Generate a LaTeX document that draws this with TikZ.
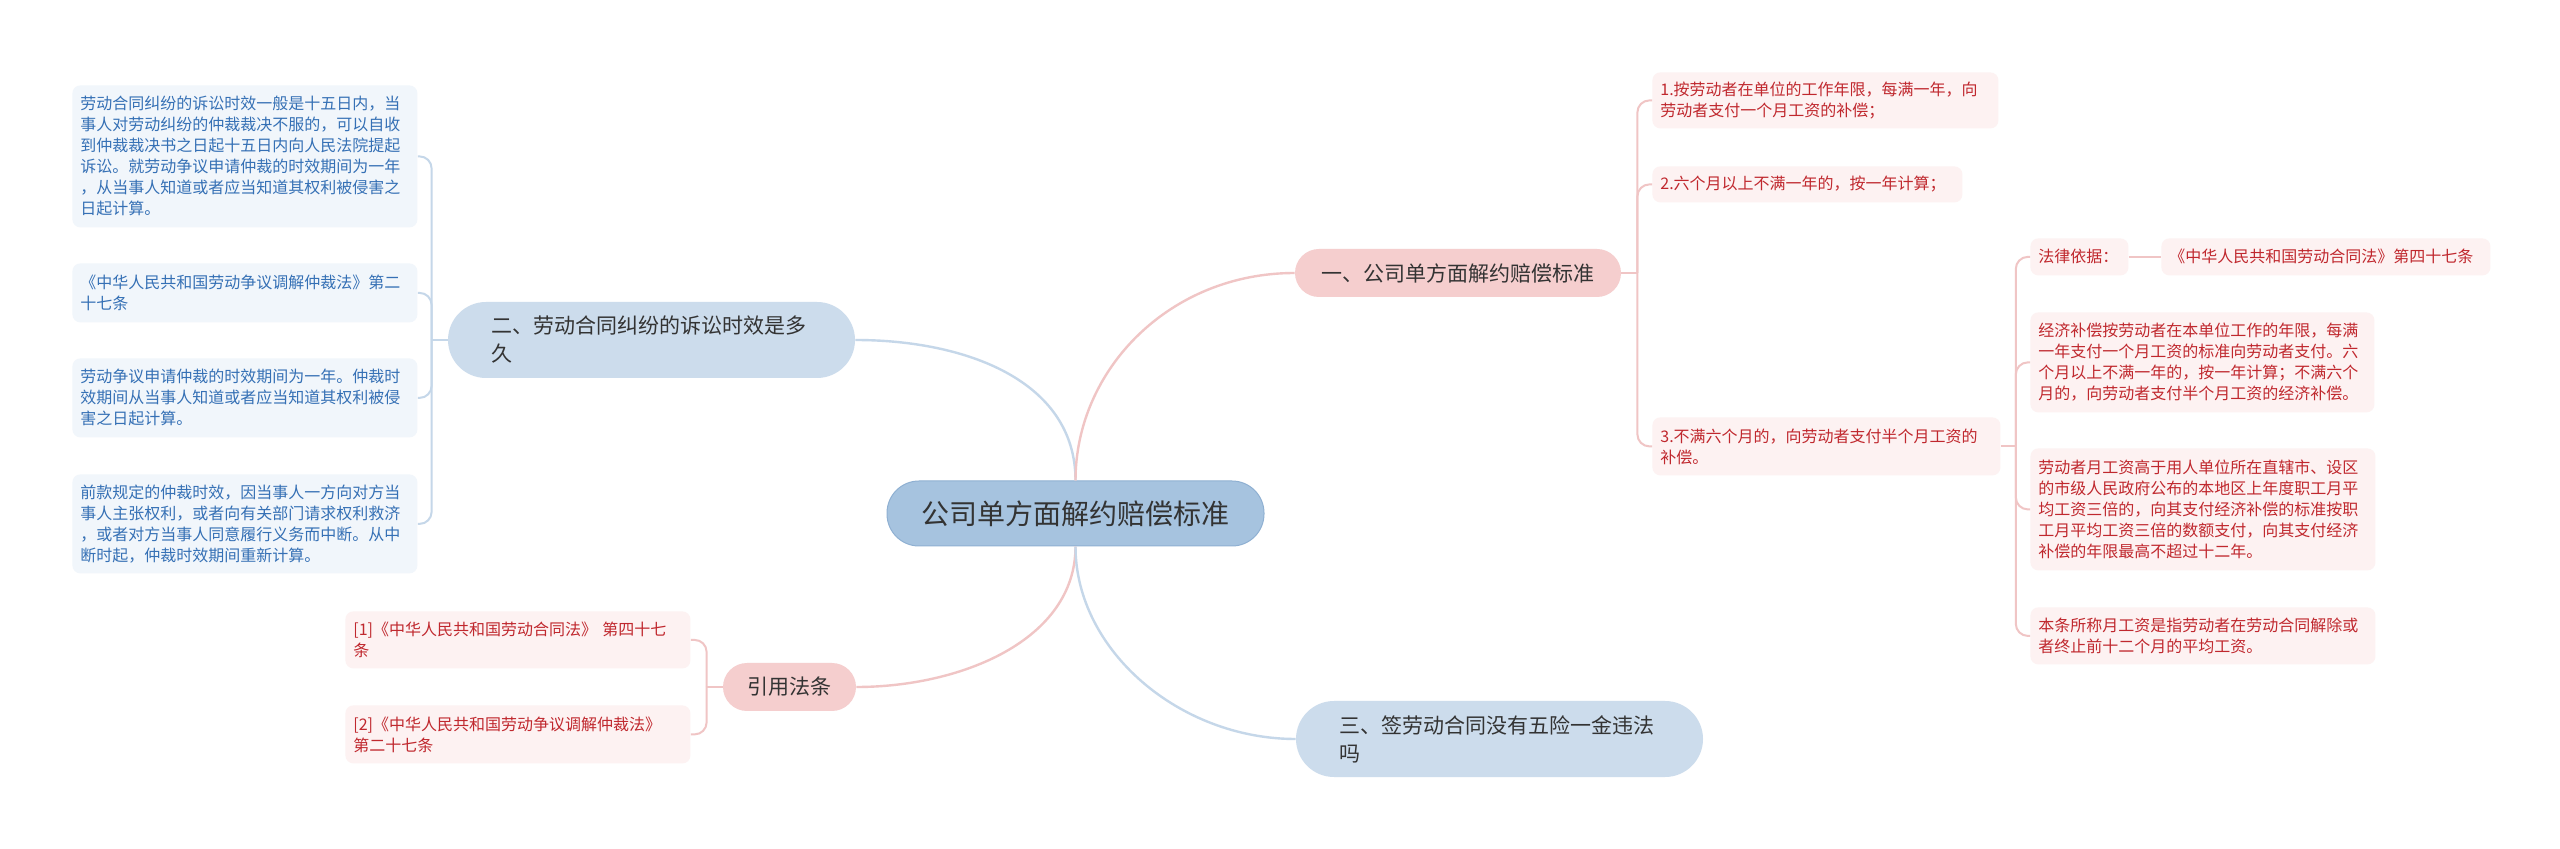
\documentclass[tikz,border=0pt]{standalone}
\usepackage{fontspec}
\setmainfont{Noto Sans CJK SC}
\definecolor{rootf}{HTML}{A6C3DF}
\definecolor{rootd}{HTML}{8FB0D2}
\definecolor{bmain}{HTML}{CCDCEC}
\definecolor{pmain}{HTML}{F5CECE}
\definecolor{bleaf}{HTML}{F1F6FB}
\definecolor{pleaf}{HTML}{FDF2F2}
\definecolor{btext}{HTML}{3570B5}
\definecolor{ptext}{HTML}{C0282E}
\definecolor{bline}{HTML}{C5D7E9}
\definecolor{pline}{HTML}{F0C5C5}
\definecolor{dtext}{HTML}{333333}
\tikzset{
  leaf/.style={anchor=north west, rounded corners=4pt, inner xsep=4pt, inner ysep=0pt, align=left,
    font=\fontsize{8pt}{10.5pt}\selectfont},
  bleafn/.style={leaf, fill=bleaf, text=btext},
  pleafn/.style={leaf, fill=pleaf, text=ptext},
  mainn/.style={text=dtext, align=left, inner xsep=0pt, inner ysep=0pt,
    font=\fontsize{10.5pt}{14pt}\selectfont},
  rootn/.style={fill=rootf, draw=rootd, line width=0.5pt, text=dtext, inner sep=0pt,
    rounded corners=16pt, font=\fontsize{14pt}{16pt}\selectfont},
  cb/.style={draw=bline, line width=1.2pt},
  cp/.style={draw=pline, line width=1.2pt},
  br/.style={rounded corners=6pt, line width=1pt}
}
\begin{document}
\begin{tikzpicture}[x=0.5pt,y=-0.5pt]
\useasboundingbox (0,0) rectangle (2560,849);
\fill[white] (0,0) rectangle (2560,849);

% root and main branches
\node[rootn, minimum width=188.5pt, minimum height=32.5pt] (root) at (1075.5,513.5) {公司单方面解约赔偿标准};
\node[mainn, fill=bmain, rounded corners=19pt, text width=160pt, minimum width=203.5pt, minimum height=38pt] (n2) at (651.5,340) {二、劳动合同纠纷的诉讼时效是多\\久};
\node[mainn, fill=bmain, rounded corners=19pt, text width=160pt, minimum width=203.5pt, minimum height=38pt] (n3) at (1499.5,739) {三、签劳动合同没有五险一金违法\\吗};
\node[mainn, fill=pmain, rounded corners=12pt, minimum width=163pt, minimum height=24pt] (n1) at (1458,273) {一、公司单方面解约赔偿标准};
\node[mainn, fill=pmain, rounded corners=12pt, minimum width=66.5pt, minimum height=24pt] (ref) at (789.5,687) {引用法条};

% left leaves
\node[bleafn, text width=164.5pt, minimum height=71pt] (L1) at (72,85) {劳动合同纠纷的诉讼时效一般是十五日内，当\\事人对劳动纠纷的仲裁裁决不服的，可以自收\\到仲裁裁决书之日起十五日内向人民法院提起\\诉讼。就劳动争议申请仲裁的时效期间为一年\\，从当事人知道或者应当知道其权利被侵害之\\日起计算。};
\node[bleafn, text width=164.5pt, minimum height=29.5pt] (L2) at (72,263) {《中华人民共和国劳动争议调解仲裁法》第二\\十七条};
\node[bleafn, text width=164.5pt, minimum height=39.5pt] (L3) at (72,358) {劳动争议申请仲裁的时效期间为一年。仲裁时\\效期间从当事人知道或者应当知道其权利被侵\\害之日起计算。};
\node[bleafn, text width=164.5pt, minimum height=49.5pt] (L4) at (72,474) {前款规定的仲裁时效，因当事人一方向对方当\\事人主张权利，或者向有关部门请求权利救济\\，或者对方当事人同意履行义务而中断。从中\\断时起，仲裁时效期间重新计算。};

% reference leaves
\node[pleafn, text width=164.5pt, minimum height=28.5pt] (F1) at (345,611) {[1]《中华人民共和国劳动合同法》 第四十七\\条};
\node[pleafn, text width=164.5pt, minimum height=29pt] (F2) at (345,705) {[2]《中华人民共和国劳动争议调解仲裁法》\\第二十七条};

% right leaves
\node[pleafn, text width=165pt, minimum height=28pt] (R1) at (1652,72) {1.按劳动者在单位的工作年限，每满一年，向\\劳动者支付一个月工资的补偿；};
\node[pleafn, text width=147pt, minimum height=18pt] (R2) at (1652,166) {2.六个月以上不满一年的，按一年计算；};
\node[pleafn, text width=166pt, minimum height=29pt] (R3) at (1652,417) {3.不满六个月的，向劳动者支付半个月工资的\\补偿。};
\node[pleafn, text width=41pt, minimum height=18.5pt] (K) at (2030,238) {法律依据：};
\node[pleafn, text width=156.5pt, minimum height=18.5pt] (K2) at (2161,238) {《中华人民共和国劳动合同法》第四十七条};
\node[pleafn, text width=164pt, minimum height=50pt] (E1) at (2030,312) {经济补偿按劳动者在本单位工作的年限，每满\\一年支付一个月工资的标准向劳动者支付。六\\个月以上不满一年的，按一年计算；不满六个\\月的，向劳动者支付半个月工资的经济补偿。};
\node[pleafn, text width=164.5pt, minimum height=61pt] (E2) at (2030,448) {劳动者月工资高于用人单位所在直辖市、设区\\的市级人民政府公布的本地区上年度职工月平\\均工资三倍的，向其支付经济补偿的标准按职\\工月平均工资三倍的数额支付，向其支付经济\\补偿的年限最高不超过十二年。};
\node[pleafn, text width=164.5pt, minimum height=28.5pt] (E3) at (2030,607) {本条所称月工资是指劳动者在劳动合同解除或\\者终止前十二个月的平均工资。};

% main connectors
\draw[cb] (root.north) .. controls +(0,-100) and +(110,0) .. (n2.east);
\draw[cp] (root.north) .. controls +(0,-111) and +(-125,0) .. (n1.west);
\draw[cp] (root.south) .. controls +(0,94) and +(104,0) .. (ref.east);
\draw[cb] (root.south) .. controls +(0,104) and +(-116,0) .. (n3.west);

% left bracket
\coordinate (t2) at ([xshift=-8pt]n2.west);
\draw[cb, line width=1pt] (n2.west) -- (t2);
\foreach \c in {L1,L2,L3,L4} \draw[cb, br] (t2) |- (\c.east);

% reference bracket
\coordinate (tr) at ([xshift=-8pt]ref.west);
\draw[cp, line width=1pt] (ref.west) -- (tr);
\foreach \c in {F1,F2} \draw[cp, br] (tr) |- (\c.east);

% right bracket
\coordinate (t1) at ([xshift=8pt]n1.east);
\draw[cp, line width=1pt] (n1.east) -- (t1);
\foreach \c in {R1,R2,R3} \draw[cp, br] (t1) |- (\c.west);

% sub bracket
\coordinate (t3) at ([xshift=7.5pt]R3.east);
\draw[cp, line width=1pt] (R3.east) -- (t3);
\foreach \c in {K,E1,E2,E3} \draw[cp, br] (t3) |- (\c.west);
\draw[cp, line width=1pt] (K.east) -- (K2.west);
\end{tikzpicture}
\end{document}
